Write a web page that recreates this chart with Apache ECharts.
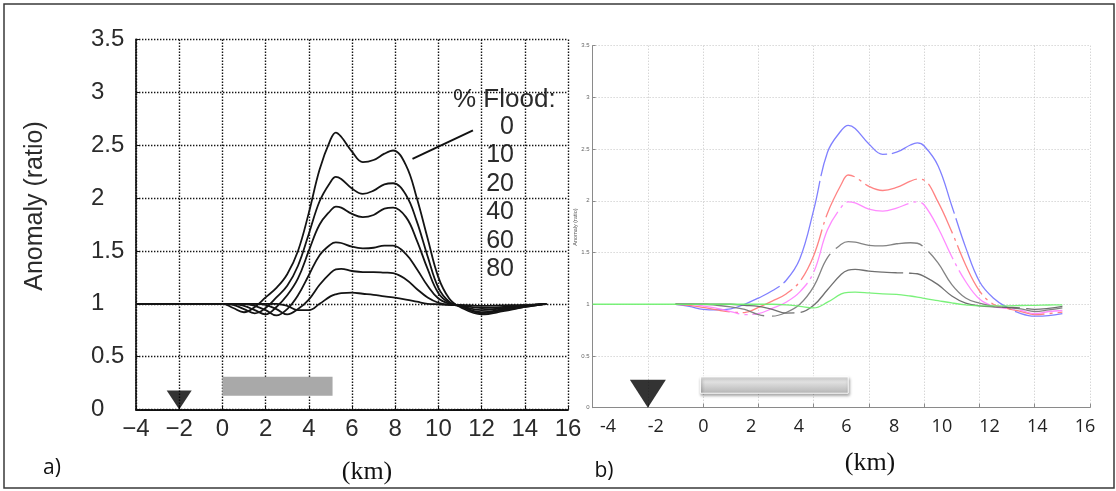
<!DOCTYPE html>
<html><head><meta charset="utf-8">
<script src="https://cdn.jsdelivr.net/npm/echarts@6/dist/echarts.min.js"></script>
<style>html,body{margin:0;padding:0;background:#fff}#c{width:1116px;height:491px}</style>
</head><body><div id="c"></div>
<script>
// ---------- data ----------
// panel a: distance (km) and anomaly ratio for each % flood
const KM_A = [-4,-2,0,0.5,1,1.5,2,2.5,3,3.5,4,4.5,5,5.25,5.5,6,6.5,7,7.5,7.9,8.5,9,9.5,10,10.5,11,12,13,14,15];
const A_F0  = [1,1,1,0.96,0.92,0.97,1.06,1.15,1.28,1.50,1.86,2.27,2.55,2.62,2.58,2.44,2.34,2.36,2.42,2.45,2.31,2.0,1.62,1.25,1.05,0.97,0.90,0.93,0.97,1.0];
const A_F10 = [1,1,1,0.99,0.95,0.91,0.96,1.06,1.17,1.36,1.66,1.97,2.15,2.20,2.18,2.09,2.04,2.07,2.13,2.14,2.03,1.78,1.45,1.15,1.02,0.98,0.91,0.94,0.97,1.0];
const A_F20 = [1,1,1,1,0.98,0.94,0.90,0.97,1.08,1.24,1.50,1.75,1.88,1.92,1.91,1.85,1.82,1.84,1.90,1.91,1.82,1.60,1.33,1.10,1.01,0.98,0.92,0.95,0.98,1.0];
const A_F40 = [1,1,1,1,1,0.98,0.94,0.89,0.95,1.08,1.27,1.46,1.56,1.58,1.575,1.54,1.525,1.53,1.55,1.55,1.47,1.33,1.17,1.05,1.0,0.98,0.94,0.96,0.98,1.0];
const A_F60 = [1,1,1,1,1,1,0.99,0.95,0.90,0.95,1.04,1.18,1.29,1.325,1.33,1.31,1.30,1.30,1.295,1.29,1.23,1.14,1.06,1.01,0.99,0.985,0.96,0.97,0.985,1.0];
const A_F80 = [1,1,1,1,1,1,1,1,0.98,0.94,0.94,1.0,1.07,1.09,1.10,1.105,1.095,1.085,1.07,1.06,1.04,1.02,1.0,0.995,0.99,0.99,0.98,0.985,0.99,1.0];
const FLOOD_TITLE = '% Flood:';
const FLOOD_LABELS = ['0','10','20','40','60','80'];
const LEADER_A = [[11.6, 2.64], [8.8, 2.37]];

// panel b (model axis) values
const KM_B = [-4,-2,-1,-0.5,0,0.5,1,1.5,2,2.5,3,3.5,4,4.5,5,5.25,5.5,6,6.5,7,7.5,7.75,8,8.5,9,9.5,10,10.5,11,11.5,12,12.5,13];
const B_BLUE  = [null,null,1.0,0.98,0.95,0.945,0.955,1.0,1.06,1.13,1.23,1.44,1.91,2.47,2.68,2.73,2.70,2.55,2.45,2.47,2.54,2.56,2.53,2.34,1.95,1.55,1.22,1.06,0.97,0.91,0.885,0.89,0.91];
const B_RED   = [null,null,1.0,0.99,0.97,0.945,0.925,0.92,0.97,1.03,1.10,1.22,1.47,1.88,2.16,2.25,2.23,2.14,2.10,2.13,2.19,2.21,2.20,1.99,1.70,1.38,1.13,1.0,0.96,0.93,0.90,0.91,0.925];
const B_MAG   = [null,null,1.0,1.0,0.985,0.96,0.93,0.90,0.91,0.96,1.02,1.12,1.31,1.72,1.94,1.99,1.98,1.92,1.90,1.93,1.98,1.99,1.96,1.74,1.46,1.22,1.05,0.98,0.96,0.94,0.91,0.93,0.94];
const B_GRAY1 = [null,null,1.0,1.0,1.0,0.99,0.975,0.95,0.90,0.885,0.92,1.0,1.17,1.45,1.58,1.605,1.60,1.57,1.565,1.585,1.595,1.59,1.55,1.40,1.19,1.06,1.01,0.98,0.97,0.955,0.93,0.945,0.965];
const B_GRAY2 = [null,null,1.0,1.0,1.0,1.0,1.0,0.99,0.98,0.95,0.915,0.92,0.99,1.14,1.29,1.33,1.338,1.32,1.31,1.305,1.30,1.295,1.27,1.19,1.08,1.01,0.985,0.975,0.97,0.965,0.95,0.96,0.98];
const B_GREEN = [1,1,1,1,1,1,1,1,1,1,0.995,0.98,0.965,1.02,1.10,1.115,1.117,1.11,1.10,1.095,1.08,1.07,1.057,1.035,1.013,0.995,0.985,0.985,0.985,0.988,0.99,0.993,0.995];

const BAR_A = [0, 5.1, 0.13, 0.31];   // x0, x1, y0, y1
const BAR_B = [-0.1, 5.25, 0.14, 0.30];
const STATION_KM = -2;
const Y_TICKS = [0, 3.5, 0.5];        // min, max, step
const XA_TICKS = [-4, 16, 2];
const XB_TICKS = [-4, 14, 2];
const XB_LABEL_TICKS = [-4, 16, 2];

// ---------- build ----------
const zip = (xs, ys) => xs.map((x, i) => [x, ys[i]]);
const chart = echarts.init(document.getElementById('c'), null, {renderer: 'canvas'});
const SANS = 'Liberation Sans, Arial, Helvetica, sans-serif';
const SERIF = 'Liberation Serif, Times New Roman, serif';
const dotA = {type: [1.4, 1.6], color: '#141414', width: 1.4};
const dotB = {type: [1, 2], color: '#c4c4c4', width: 1};

const lineA = (name, ys) => ({
  name, type: 'line', xAxisIndex: 0, yAxisIndex: 0, data: zip(KM_A, ys),
  showSymbol: false, smooth: 0.4, silent: true,
  lineStyle: {color: '#141414', width: 1.8}, z: 5
});
const lineB = (name, ys, color, dash, w) => ({
  name, type: 'line', xAxisIndex: 1, yAxisIndex: 1, data: zip(KM_B, ys),
  showSymbol: false, smooth: 0.4, silent: true, connectNulls: false,
  lineStyle: {color, width: w || 1.3, type: dash || 'solid', opacity: 0.9}, z: 5
});

const option = {
  animation: false,
  backgroundColor: '#fff',
  grid: [
    {left: 136, right: 548, top: 39.5, bottom: 81.5, containLabel: false, outerBoundsMode: 'none'},
    {left: 592.6, right: 26, top: 45.7, bottom: 83.3, containLabel: false, outerBoundsMode: 'none'},
    {left: 608, right: 31, top: 45.7, bottom: 83.3, containLabel: false, outerBoundsMode: 'none'}
  ],
  xAxis: [
    {gridIndex: 0, type: 'value', min: XA_TICKS[0], max: XA_TICKS[1], interval: XA_TICKS[2],
     axisLine: {show: true, onZero: false, lineStyle: {type: [1.3, 1.3], color: '#111', width: 1.8}},
     axisTick: {show: true, inside: true, length: 4, lineStyle: {color: '#111'}},
     axisLabel: {show: true, margin: 8, fontSize: 24, fontFamily: SANS, color: '#2b2b2b',
       formatter: v => (v < 0 ? '\u2212' + Math.abs(v) : String(v))},
     splitLine: {show: true, lineStyle: dotA}},
    {gridIndex: 1, type: 'value', min: XB_TICKS[0], max: XB_TICKS[1], interval: XB_TICKS[2],
     axisLine: {show: true, onZero: false, lineStyle: {color: '#8a8a8a', width: 1}},
     axisTick: {show: true, inside: true, length: 4, lineStyle: {color: '#8a8a8a'}},
     axisLabel: {show: false},
     splitLine: {show: true, lineStyle: dotB}},
    {gridIndex: 2, type: 'value', min: XB_LABEL_TICKS[0], max: XB_LABEL_TICKS[1], interval: XB_LABEL_TICKS[2],
     axisLine: {show: false}, axisTick: {show: false}, splitLine: {show: false},
     axisLabel: {show: true, margin: 10, fontSize: 18, fontFamily: 'Open Sans, Noto Sans, sans-serif', color: '#222'}}
  ],
  yAxis: [
    {gridIndex: 0, type: 'value', min: Y_TICKS[0], max: Y_TICKS[1], interval: Y_TICKS[2],
     axisLine: {show: true, onZero: false, lineStyle: {type: [1.3, 1.3], color: '#111', width: 1.8}},
     axisTick: {show: true, inside: true, length: 4, lineStyle: {color: '#111'}},
     axisLabel: {show: true, margin: 45, align: 'left', fontSize: 24, fontFamily: SANS, color: '#2b2b2b',
       padding: [0, 0, 5, 0]},
     splitLine: {show: true, lineStyle: dotA}},
    {gridIndex: 1, type: 'value', min: Y_TICKS[0], max: Y_TICKS[1], interval: Y_TICKS[2],
     axisLine: {show: true, onZero: false, lineStyle: {color: '#8a8a8a', width: 1}},
     axisTick: {show: true, inside: true, length: 3, lineStyle: {color: '#8a8a8a'}},
     axisLabel: {show: true, margin: 3, fontSize: 6, fontFamily: SANS, color: '#666'},
     splitLine: {show: true, lineStyle: dotB}},
    {gridIndex: 2, type: 'value', show: false, min: 0, max: 1}
  ],
  series: [
    lineA('0', A_F0), lineA('10', A_F10), lineA('20', A_F20),
    lineA('40', A_F40), lineA('60', A_F60), lineA('80', A_F80),
    {type: 'line', xAxisIndex: 0, yAxisIndex: 0, data: LEADER_A, showSymbol: false, silent: true,
     lineStyle: {color: '#111', width: 2}, z: 6,
     markArea: {silent: true, label: {show: false},
       itemStyle: {color: '#a9a9a9', borderWidth: 0},
       data: [[{coord: [BAR_A[0], BAR_A[2]]}, {coord: [BAR_A[1], BAR_A[3]]}]]}},
    {type: 'scatter', xAxisIndex: 0, yAxisIndex: 0, data: [[STATION_KM, 0]], silent: true,
     symbol: 'triangle', symbolRotate: 180, symbolSize: [25, 19], symbolOffset: [0, -9.5],
     itemStyle: {color: '#000'}, z: 8},

    lineB('0', B_BLUE, '#7272ff', [110, 5]),
    lineB('10', B_RED, '#ff7676', [55, 5, 3, 5]),
    lineB('20', B_MAG, '#ff7eff', [65, 5, 3, 5]),
    lineB('40', B_GRAY1, '#767676', [90, 8]),
    lineB('60', B_GRAY2, '#606060', [120, 6]),
    lineB('80', B_GREEN, '#6cef6c', 'solid'),
    {type: 'line', xAxisIndex: 1, yAxisIndex: 1, data: [], silent: true,
     markArea: {silent: true, label: {show: false},
       itemStyle: {
         color: new echarts.graphic.LinearGradient(0, 0, 0, 1, [
           {offset: 0, color: '#f6f6f6'}, {offset: 1, color: '#b4b4b4'}]),
         borderColor: '#ffffff', borderWidth: 1,
         shadowBlur: 3, shadowColor: 'rgba(0,0,0,0.45)', shadowOffsetX: 1, shadowOffsetY: 2},
       data: [[{coord: [BAR_B[0], BAR_B[2]]}, {coord: [BAR_B[1], BAR_B[3]]}]]}},
    {type: 'scatter', xAxisIndex: 1, yAxisIndex: 1, data: [[STATION_KM, 0]], silent: true,
     symbol: 'triangle', symbolRotate: 180, symbolSize: [36, 28], symbolOffset: [0, -14],
     itemStyle: {color: '#000'}, z: 8}
  ],
  graphic: [
    {type: 'rect', shape: {x: 4, y: 4, width: 1110, height: 484}, z: -10,
     style: {fill: 'none', stroke: '#3a3a3a', lineWidth: 1.5}},
    {type: 'text', x: 35, y: 206, rotation: Math.PI / 2,
     style: {text: 'Anomaly (ratio)', font: '25px ' + SANS, fill: '#2b2b2b', textAlign: 'center', textVerticalAlign: 'middle'}},
    {type: 'text', x: 575, y: 227, rotation: Math.PI / 2,
     style: {text: 'Anomaly (ratio)', font: '5.5px ' + SANS, fill: '#555', textAlign: 'center', textVerticalAlign: 'middle'}},
    {type: 'text', x: 453, y: 100,
     style: {text: FLOOD_TITLE, font: '26px ' + SANS, fill: '#2b2b2b', textAlign: 'left', textVerticalAlign: 'middle'}},
    ...FLOOD_LABELS.map((t, i) => ({type: 'text', x: 514, y: [127, 155, 184, 212, 241, 269][i],
     style: {text: t, font: '25px ' + SANS, fill: '#2b2b2b', textAlign: 'right', textVerticalAlign: 'middle'}})),
    {type: 'text', x: 367, y: 472,
     style: {text: '(km)', font: '26px ' + SERIF, fill: '#111', textAlign: 'center', textVerticalAlign: 'middle'}},
    {type: 'text', x: 870, y: 463,
     style: {text: '(km)', font: '26px ' + SERIF, fill: '#111', textAlign: 'center', textVerticalAlign: 'middle'}},
    {type: 'text', x: 52, y: 468,
     style: {text: 'a)', font: '21px Open Sans, sans-serif', fill: '#111', textAlign: 'center', textVerticalAlign: 'middle'}},
    {type: 'text', x: 604, y: 471,
     style: {text: 'b)', font: '21px Open Sans, sans-serif', fill: '#111', textAlign: 'center', textVerticalAlign: 'middle'}}
  ]
};
chart.setOption(option);
</script>
</body></html>
